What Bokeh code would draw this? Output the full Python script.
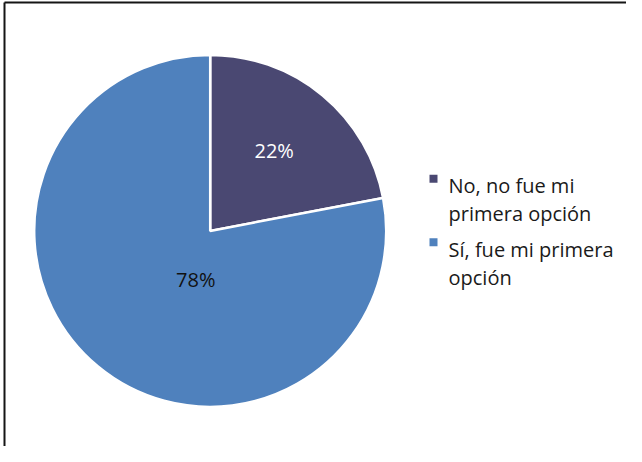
import math
from bokeh.plotting import figure
from bokeh.models import Range1d
from bokeh.embed import file_html
from bokeh.resources import INLINE
from bokeh.core.properties import value

# ---- data ----
categories = ["No, no fue mi primera opción", "Sí, fue mi primera opción"]
legend_lines = [["No, no fue mi", "primera opción"], ["Sí, fue mi primera", "opción"]]
shares = [22, 78]
pct_labels = ["22%", "78%"]
colors = ["#4A4872", "#4F81BD"]
label_colors = ["white", "#111111"]

# ---- layout (figure pixels; page offset is 8px) ----
W, H = 626, 446
OFF = 8

def fx(X):
    return X - OFF

def fy(Y):
    return H - (Y - OFF)

CX, CY, R = 217.7, 238.4, 176
# label offsets from pie center (ref pixels, y down)
label_off = [(64.0, -80.7), (-14.4, 48.9)]
FONT = "Open Sans"

p = figure(width=W, height=H, x_range=Range1d(0, W), y_range=Range1d(0, H),
           output_backend="svg", toolbar_location=None, min_border=0)
p.axis.visible = False
p.grid.visible = False
p.outline_line_color = None
p.background_fill_color = "white"
p.border_fill_color = "white"

# chart border (top and left)
p.segment(x0=[fx(12), fx(12)], y0=[fy(10), fy(10)], x1=[W, fx(12)], y1=[fy(10), 0],
          line_color="#151515", line_width=2)

# pie wedges: start at 12 o'clock, clockwise
total = sum(shares)
cum = 0.0
starts, ends = [], []
for s in shares:
    a0 = cum / total
    cum += s
    a1 = cum / total
    starts.append(math.pi / 2 - a1 * 2 * math.pi)
    ends.append(math.pi / 2 - a0 * 2 * math.pi)

p.wedge(x=[fx(CX)] * len(shares), y=[fy(CY)] * len(shares), radius=R, radius_units="screen",
        start_angle=starts, end_angle=ends, direction="anticlock",
        fill_color=colors, line_color="white", line_width=2.5)

# percentage labels
lx = [fx(CX + dx) for dx, dy in label_off]
ly = [fy(CY + dy) for dx, dy in label_off]
p.text(x=lx, y=ly, text=pct_labels, text_color=label_colors, text_font=value(FONT),
       text_font_size="20px", text_align="center", text_baseline="middle")

# legend
LEG_X, MARK_X = 456, 441
first_base, entry_gap, line_gap = 193.3, 63.4, 28.0
for i, lines in enumerate(legend_lines):
    base = first_base + i * entry_gap
    p.scatter(x=[fx(MARK_X)], y=[fy(base - 7)], marker="square", size=8,
              fill_color=colors[i], line_color=None)
    xs = [fx(LEG_X)] * len(lines)
    ys = [fy(base + j * line_gap) for j in range(len(lines))]
    p.text(x=xs, y=ys, text=lines, text_color="#1a1a1a", text_font=value(FONT),
           text_font_size="20px", text_align="left", text_baseline="alphabetic")

open("out.html", "w").write(file_html(p, INLINE))
